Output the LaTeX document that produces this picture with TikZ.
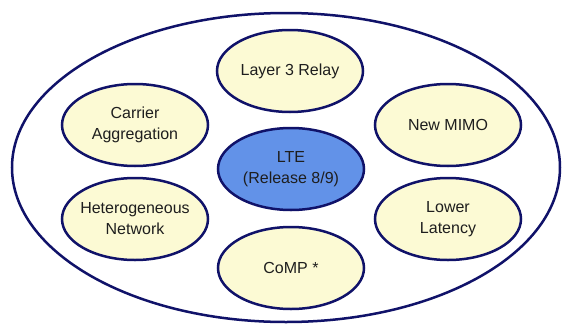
\documentclass[tikz,border=0pt]{standalone}
\usepackage{fontspec}
\setmainfont{Liberation Sans}
\usetikzlibrary{shapes.geometric}
\definecolor{navy}{RGB}{16,18,105}
\definecolor{cream}{RGB}{252,250,212}
\definecolor{sky}{RGB}{98,146,232}
\definecolor{ink}{RGB}{30,30,30}
\tikzset{
  feature/.style={ellipse,draw=navy,fill=#1,line width=2.5pt,
    minimum width=146pt,minimum height=82pt,inner xsep=-10pt,inner ysep=0pt,
    align=center,text=ink,font=\fontsize{16}{21}\selectfont},
  feature/.default=cream,
  frame/.style={ellipse,draw=navy,line width=2.5pt,
    minimum width=548pt,minimum height=309pt,inner sep=0pt},
}
\begin{document}
\begin{tikzpicture}[x=1pt,y=-1pt]
  \useasboundingbox[fill=white] (0,0) rectangle (563,327);
  \node[frame] (release) at (286,167.5) {};
  \node[feature=sky] (lte) at (291,169) {LTE\\(Release 8/9)};
  \node[feature] (relay) at (290,71) {Layer 3 Relay};
  \node[feature] (ca) at (135,125) {Carrier\\Aggregation};
  \node[feature] (mimo) at (448,125) {New MIMO};
  \node[feature] (hetnet) at (135,219) {Heterogeneous\\Network};
  \node[feature] (latency) at (448,219) {Lower\\Latency};
  \node[feature] (comp) at (291,268) {CoMP *};
\end{tikzpicture}
\end{document}
